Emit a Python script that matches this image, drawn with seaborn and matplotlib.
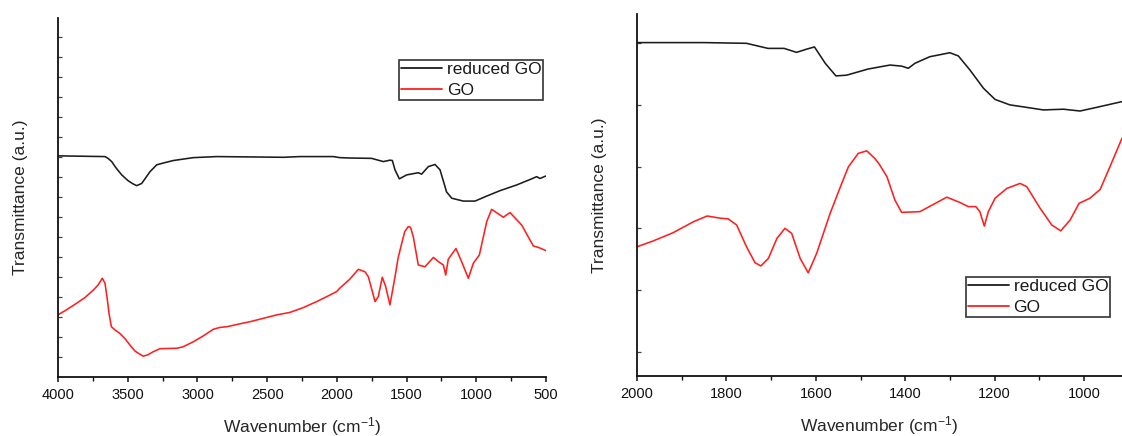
import numpy as np
import pandas as pd
import matplotlib
matplotlib.use("Agg")
import matplotlib.pyplot as plt
from matplotlib.ticker import MultipleLocator, FixedLocator, NullFormatter
import seaborn as sns

# ---- FT-IR spectra, full range (4000-500 cm-1) ----
full_rgo_wn = [4000, 3663, 3641, 3615, 3581, 3543, 3498, 3462, 3436, 3400, 3378, 3340,
               3292, 3235, 3173, 3030, 2862, 2384, 2264, 2026, 1978, 1906, 1750, 1667,
               1619, 1602, 1583, 1552, 1499, 1416, 1392, 1344, 1296, 1260, 1224, 1214,
               1176, 1093, 1009, 925, 830, 710, 615, 567, 543, 500]
full_rgo_t = [61.6, 61.4, 60.9, 60.0, 58.1, 56.3, 54.7, 53.8, 53.3, 53.9, 55.1, 57.2,
              59.1, 59.7, 60.3, 61.1, 61.4, 61.2, 61.4, 61.4, 61.1, 61.0, 60.9, 60.0,
              60.4, 60.3, 57.7, 55.2, 56.3, 56.9, 56.5, 58.6, 59.2, 57.7, 53.0, 51.6,
              49.8, 49.0, 49.0, 50.4, 51.9, 53.5, 55.0, 55.8, 55.3, 56.0]

full_go_wn = [4000, 3940, 3868, 3808, 3747, 3713, 3687, 3682, 3663, 3649, 3634, 3617,
              3591, 3558, 3522, 3484, 3450, 3424, 3388, 3355, 3319, 3268, 3149, 3104,
              3030, 2960, 2886, 2840, 2790, 2673, 2623, 2431, 2336, 2243, 2145, 2051,
              2001, 1980, 1906, 1846, 1798, 1774, 1726, 1703, 1674, 1650, 1619, 1583,
              1561, 1535, 1513, 1488, 1472, 1452, 1435, 1416, 1368, 1308, 1260, 1236,
              1219, 1201, 1146, 1105, 1057, 1021, 978, 925, 890, 806, 758, 674, 591,
              555, 500]
full_go_t = [17.3, 18.7, 20.5, 22.1, 24.2, 25.6, 27.2, 27.5, 26.1, 22.4, 17.7, 14.0,
             13.1, 12.2, 10.8, 8.9, 7.3, 6.6, 5.8, 6.2, 7.0, 7.9, 8.0, 8.4,
             9.8, 11.4, 13.3, 13.8, 14.0, 15.0, 15.4, 17.3, 18.0, 19.3, 21.0, 22.8,
             23.8, 24.7, 27.3, 30.0, 29.3, 27.9, 21.0, 22.4, 27.8, 25.2, 20.1, 27.9,
             33.1, 37.2, 40.5, 41.9, 41.7, 39.1, 35.4, 31.2, 30.7, 33.3, 31.8, 31.2,
             28.4, 32.8, 35.8, 32.1, 27.5, 31.7, 34.0, 43.3, 46.7, 44.5, 45.8, 42.3, 36.5,
             36.1, 35.2]

# ---- FT-IR spectra, fingerprint region (2000-915 cm-1) ----
fp_rgo_wn = [2000, 1851, 1755, 1707, 1671, 1643, 1623, 1603, 1579, 1555, 1531, 1483,
             1434, 1408, 1393, 1378, 1345, 1300, 1281, 1255, 1225, 1199, 1166, 1128,
             1091, 1046, 1009, 972, 915]
fp_rgo_t = [92.1, 92.1, 91.9, 90.5, 90.5, 89.4, 90.2, 90.9, 86.4, 82.9, 83.1, 84.8,
            85.9, 85.6, 85.0, 86.4, 88.2, 89.3, 88.4, 84.5, 79.5, 76.4, 74.9, 74.2,
            73.5, 73.7, 73.2, 74.2, 75.8]

fp_go_wn = [2000, 1964, 1919, 1874, 1843, 1814, 1796, 1777, 1755, 1736, 1723, 1706,
            1687, 1669, 1654, 1635, 1617, 1598, 1568, 1542, 1527, 1505, 1486, 1468,
            1458, 1441, 1423, 1408, 1367, 1337, 1307, 1277, 1259, 1242, 1233, 1223,
            1214, 1199, 1173, 1143, 1128, 1098, 1072, 1052, 1031, 1011, 987, 964, 942,
            915]
fp_go_t = [35.7, 37.3, 39.6, 42.6, 44.2, 43.6, 43.4, 41.7, 35.7, 31.3, 30.4, 32.5,
           38.0, 40.8, 39.4, 32.5, 28.5, 33.9, 44.9, 53.2, 57.8, 61.5, 62.2, 60.1,
           58.5, 55.1, 48.6, 45.2, 45.4, 47.4, 49.4, 47.9, 46.8, 46.8, 45.4, 41.4,
           45.4, 49.1, 51.8, 53.2, 52.3, 46.3, 41.7, 40.1, 43.1, 47.7, 49.1, 51.5, 57.8,
           65.7]

series_names = ["reduced GO", "GO"]
series_colors = {"reduced GO": "#1c1c1c", "GO": "#ff1f1f"}


def long_frame(rgo_wn, rgo_t, go_wn, go_t):
    a = pd.DataFrame({"wavenumber": rgo_wn, "transmittance": rgo_t, "sample": series_names[0]})
    b = pd.DataFrame({"wavenumber": go_wn, "transmittance": go_t, "sample": series_names[1]})
    return pd.concat([a, b], ignore_index=True)


full_df = long_frame(full_rgo_wn, full_rgo_t, full_go_wn, full_go_t)
fp_df = long_frame(fp_rgo_wn, fp_rgo_t, fp_go_wn, fp_go_t)

sns.set_theme(style="white")
plt.rcParams["font.family"] = ["Liberation Sans", "DejaVu Sans"]
plt.rcParams["mathtext.fontset"] = "custom"
plt.rcParams["mathtext.rm"] = "Liberation Sans"
plt.rcParams["mathtext.it"] = "Liberation Sans:italic"
plt.rcParams["text.color"] = "#1a1a1a"
plt.rcParams["lines.solid_joinstyle"] = "round"

W, H = 1122, 436
fig = plt.figure(figsize=(W / 100, H / 100), dpi=100)
ax1 = fig.add_axes([58 / W, (H - 377) / H, 488 / W, 359 / H])
ax2 = fig.add_axes([637 / W, (H - 376) / H, 485 / W, 362 / H])


def style_axes(ax, xlim, major, minor, yticks):
    ax.set_xlim(*xlim)
    ax.set_ylim(0, 100)
    for side in ("top", "right"):
        ax.spines[side].set_visible(False)
    for side in ("left", "bottom"):
        ax.spines[side].set_color("#111111")
        ax.spines[side].set_linewidth(1.3)
    ax.xaxis.set_major_locator(MultipleLocator(major))
    ax.xaxis.set_minor_locator(MultipleLocator(minor))
    ax.tick_params(axis="x", which="major", direction="out", length=3.5, width=1.1,
                   color="#111111", labelsize=10.5, pad=4.5, labelcolor="#111111", bottom=True)
    ax.tick_params(axis="x", which="minor", direction="out", length=3, width=1.0,
                   color="#111111", bottom=True)
    ax.yaxis.set_major_locator(FixedLocator(yticks))
    ax.yaxis.set_major_formatter(NullFormatter())
    ax.tick_params(axis="y", which="major", direction="in", length=3, width=0.9,
                   color="#444444", left=True)
    ax.set_xlabel(r"Wavenumber (cm$^{\mathregular{-1}}$)", fontsize=12.5, labelpad=9.5)
    ax.set_ylabel("Transmittance (a.u.)", fontsize=12.5, labelpad=18)
    ax.grid(False)


def draw(ax, df, legend_anchor):
    sns.lineplot(data=df, x="wavenumber", y="transmittance", hue="sample",
                 hue_order=series_names, palette=series_colors, linewidth=1.15,
                 ax=ax, legend=False, estimator=None, sort=False)
    handles = [plt.Line2D([], [], color=series_colors[n], linewidth=1.3) for n in series_names]
    leg = ax.legend(handles, series_names, loc="upper right", bbox_to_anchor=legend_anchor,
                    fontsize=12.5, frameon=True, fancybox=False, framealpha=1,
                    edgecolor="#333333", handlelength=2.4, handletextpad=0.25,
                    labelspacing=0.37, borderpad=0.1, borderaxespad=0)
    leg.get_frame().set_linewidth(1.2)


draw(ax1, full_df, (0.994, 0.883))
draw(ax2, fp_df, (0.975, 0.2735))

style_axes(ax1, (4000, 500), 500, 250, [100 / 359 * 20 * k for k in range(1, 18)])
style_axes(ax2, (2000, 915), 200, 100, [6.63 + 17.07 * k for k in range(0, 6)])

fig.savefig("out.png", dpi=100)
